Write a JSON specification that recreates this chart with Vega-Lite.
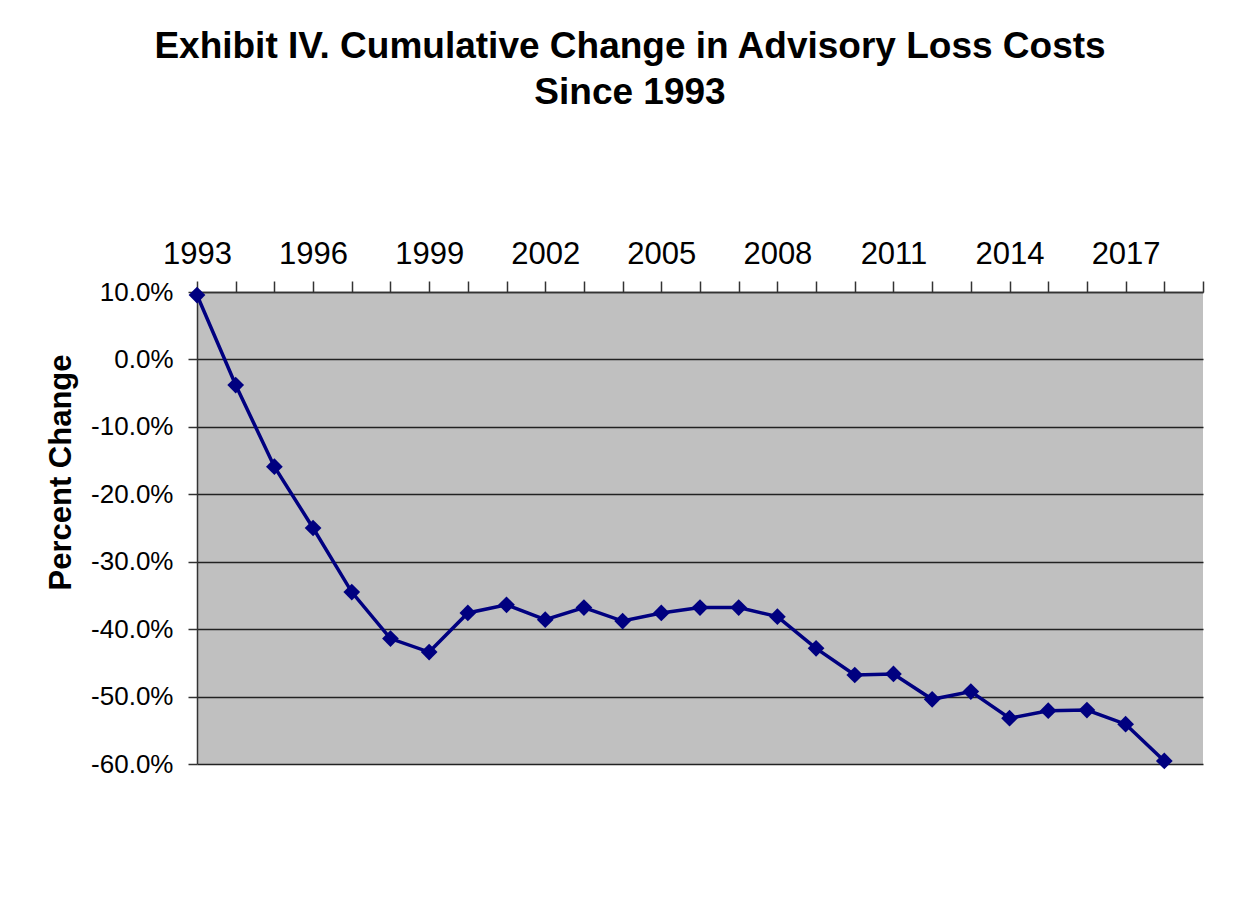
{
  "$schema": "https://vega.github.io/schema/vega-lite/v6.json",
  "autosize": {"type": "none"},
  "padding": {"left": 197, "top": 292, "right": 54, "bottom": 155},
  "width": 1006,
  "height": 472,
  "background": "white",
  "title": {
    "text": ["Exhibit IV. Cumulative Change in Advisory Loss Costs", "Since 1993"],
    "font": "Liberation Sans",
    "fontSize": 37,
    "fontWeight": "bold",
    "color": "black",
    "anchor": "middle",
    "dx": -70,
    "lineHeight": 46,
    "offset": 126
  },
  "config": {
    "view": {"stroke": null, "fill": "#C0C0C0"},
    "font": "Liberation Sans"
  },
  "data": {
    "values": [
      {"year": 1993, "pct": 9.55},
      {"year": 1994, "pct": -3.8},
      {"year": 1995, "pct": -15.9},
      {"year": 1996, "pct": -25.0},
      {"year": 1997, "pct": -34.5},
      {"year": 1998, "pct": -41.4},
      {"year": 1999, "pct": -43.4},
      {"year": 2000, "pct": -37.6},
      {"year": 2001, "pct": -36.4},
      {"year": 2002, "pct": -38.6},
      {"year": 2003, "pct": -36.8},
      {"year": 2004, "pct": -38.8},
      {"year": 2005, "pct": -37.6},
      {"year": 2006, "pct": -36.8},
      {"year": 2007, "pct": -36.8},
      {"year": 2008, "pct": -38.15},
      {"year": 2009, "pct": -42.85},
      {"year": 2010, "pct": -46.8},
      {"year": 2011, "pct": -46.65},
      {"year": 2012, "pct": -50.4},
      {"year": 2013, "pct": -49.25},
      {"year": 2014, "pct": -53.2},
      {"year": 2015, "pct": -52.1},
      {"year": 2016, "pct": -52.0},
      {"year": 2017, "pct": -54.1},
      {"year": 2018, "pct": -59.55}
    ]
  },
  "encoding": {
    "x": {
      "field": "year",
      "type": "quantitative",
      "scale": {"domain": [1993, 2019], "nice": false, "zero": false},
      "axis": {
        "orient": "top",
        "title": null,
        "values": [1993,1994,1995,1996,1997,1998,1999,2000,2001,2002,2003,2004,2005,2006,2007,2008,2009,2010,2011,2012,2013,2014,2015,2016,2017,2018,2019],
        "format": "d",
        "labelExpr": "datum.value % 3 == 1 ? datum.label : ''",
        "labelOverlap": false,
        "labelFlush": false,
        "labelFont": "Liberation Sans",
        "labelFontSize": 31,
        "labelColor": "black",
        "labelPadding": 11,
        "tickSize": 11,
        "tickColor": "#333333",
        "tickWidth": 1.5,
        "domainColor": "#333333",
        "domainWidth": 1.5,
        "grid": false
      }
    },
    "y": {
      "field": "pct",
      "type": "quantitative",
      "scale": {"domain": [-60, 10], "nice": false, "zero": false},
      "axis": {
        "title": "Percent Change",
        "titleFont": "Liberation Sans",
        "titleFontSize": 31,
        "titleFontWeight": "bold",
        "titleColor": "black",
        "titleX": -120,
        "titleY": 180,
        "values": [-60, -50, -40, -30, -20, -10, 0, 10],
        "labelExpr": "replace(format(datum.value, '.1f'), '\u2212', '-') + '%'",
        "labelFont": "Liberation Sans",
        "labelFontSize": 26,
        "labelColor": "black",
        "labelPadding": 15,
        "tickSize": 9,
        "tickColor": "#333333",
        "tickWidth": 1.5,
        "domainColor": "#333333",
        "domainWidth": 1.5,
        "grid": true,
        "gridColor": "#222222",
        "gridWidth": 1.5
      }
    }
  },
  "layer": [
    {
      "mark": {"type": "line", "color": "#000080", "strokeWidth": 3.5}
    },
    {
      "mark": {"type": "point", "shape": "diamond", "filled": true, "opacity": 1, "color": "#000080", "size": 280}
    }
  ]
}
